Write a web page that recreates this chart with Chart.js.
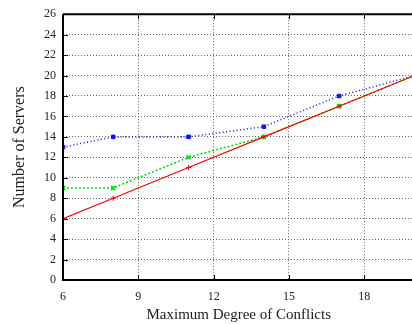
<!DOCTYPE html>
<html>
<head>
<meta charset="utf-8">
<script src="https://cdn.jsdelivr.net/npm/chart.js@4"></script>
<style>
  html, body { margin: 0; padding: 0; background: #fff; overflow: hidden; }
  #wrap { width: 420px; height: 324px; }
</style>
</head>
<body>
<div id="wrap"><canvas id="chart"></canvas></div>
<script>
// values
var degrees = [6, 8, 11, 14, 17, 20];
var optimal = [6, 8, 11, 14, 17, 20];
var greedy = [9, 9, 12, 14, 17, 20];
var naive = [13, 14, 14, 15, 18, 20];
var xTicks = [6, 9, 12, 15, 18];
var yTicks = [0, 2, 4, 6, 8, 10, 12, 14, 16, 18, 20, 22, 24, 26];

function pts(ys) {
    return degrees.map(function (x, i) { return { x: x, y: ys[i] }; });
}

// frame + inward tick marks like gnuplot
var frame = {
    id: 'frame',
    afterDraw: function (chart) {
        var c = chart.ctx, a = chart.chartArea;
        var xs = chart.scales.x, ys = chart.scales.y;
        c.save();
        c.strokeStyle = '#000';
        c.lineWidth = 2;
        c.beginPath();
        c.moveTo(a.left, a.top); c.lineTo(a.right, a.top);
        c.moveTo(a.left, a.top); c.lineTo(a.left, a.bottom);
        c.lineTo(a.right, a.bottom);
        c.stroke();
        c.lineWidth = 1;
        c.beginPath();
        xTicks.forEach(function (v) {
            var px = Math.round(xs.getPixelForValue(v)) + 0.5;
            c.moveTo(px, a.bottom); c.lineTo(px, a.bottom - 5);
            c.moveTo(px, a.top); c.lineTo(px, a.top + 5);
        });
        yTicks.forEach(function (v) {
            var py = Math.round(ys.getPixelForValue(v)) + 0.5;
            c.moveTo(a.left, py); c.lineTo(a.left + 5, py);
        });
        c.stroke();
        c.restore();
    }
};

var serif = "'Liberation Serif', 'DejaVu Serif', serif";

new Chart(document.getElementById('chart'), {
    type: 'scatter',
    data: {
        datasets: [{
            data: pts(optimal),
            showLine: true,
            borderColor: '#ff0000',
            backgroundColor: '#ff0000',
            borderWidth: 1.2,
            pointStyle: 'cross',
            pointRadius: 2.5,
            pointBorderWidth: 1
        }, {
            data: pts(greedy),
            showLine: true,
            borderColor: '#00e000',
            backgroundColor: '#00e000',
            borderWidth: 1.5,
            borderDash: [2, 2],
            pointStyle: 'crossRot',
            pointRadius: 3,
            pointBorderWidth: 1.5
        }, {
            data: pts(naive),
            showLine: true,
            borderColor: '#1010ff',
            backgroundColor: '#1010ff',
            borderWidth: 1.5,
            borderDash: [1, 2.5],
            pointStyle: 'rect',
            pointRadius: 2.5,
            pointBorderWidth: 1
        }]
    },
    options: {
        responsive: true,
        maintainAspectRatio: false,
        animation: false,
        layout: { padding: { top: 14, right: 5, left: 6, bottom: 0 } },
        plugins: { legend: { display: false }, tooltip: { enabled: false } },
        scales: {
            x: {
                type: 'linear',
                min: 6, max: 20,
                afterBuildTicks: function (s) { s.ticks = xTicks.map(function (v) { return { value: v }; }); },
                afterFit: function (s) { s.height = 44; },
                border: { display: false, dash: [1, 2] },
                grid: { color: '#666', lineWidth: 1, drawTicks: false },
                ticks: { color: '#222', padding: 10, font: { family: serif, size: 12 } },
                title: { display: true, text: 'Maximum Degree of Conflicts', color: '#222', padding: { top: 0, bottom: 0 }, font: { family: serif, size: 15 } }
            },
            y: {
                min: 0, max: 26,
                afterBuildTicks: function (s) { s.ticks = yTicks.map(function (v) { return { value: v }; }); },
                afterFit: function (s) { s.width = 57; },
                border: { display: false, dash: [1, 2] },
                grid: { color: '#666', lineWidth: 1, drawTicks: false },
                ticks: { color: '#222', padding: 7, font: { family: serif, size: 12 } },
                title: { display: true, text: 'Number of Servers', color: '#222', padding: { bottom: 4 }, font: { family: serif, size: 16 } }
            }
        }
    },
    plugins: [frame]
});
</script>
</body>
</html>
